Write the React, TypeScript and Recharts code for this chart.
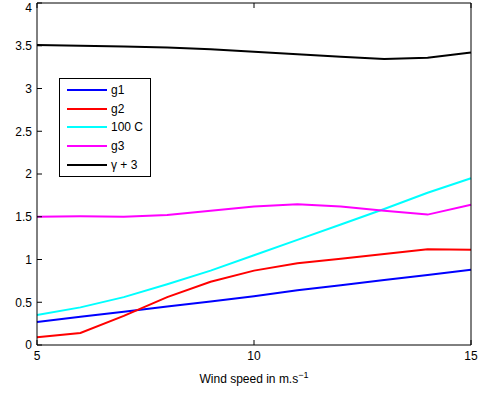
import { LineChart, Line, XAxis, YAxis, Legend, Label } from "recharts"

const windSpeed = [5, 6, 7, 8, 9, 10, 11, 12, 13, 14, 15]
const g1 = [0.27, 0.33, 0.39, 0.45, 0.51, 0.57, 0.64, 0.7, 0.76, 0.82, 0.88]
const g2 = [0.09, 0.14, 0.34, 0.56, 0.74, 0.87, 0.955, 1.01, 1.065, 1.12, 1.115]
const c100 = [0.35, 0.44, 0.56, 0.71, 0.87, 1.05, 1.23, 1.41, 1.59, 1.78, 1.95]
const g3 = [1.5, 1.505, 1.5, 1.52, 1.57, 1.62, 1.645, 1.62, 1.57, 1.525, 1.64]
const gammaPlus3 = [3.51, 3.5, 3.49, 3.48, 3.46, 3.43, 3.4, 3.37, 3.345, 3.36, 3.42]

const seriesNames = ["g1", "g2", "100 C", "g3", "γ + 3"]
const xTicks = [5, 10, 15]
const yTicks = [0, 0.5, 1, 1.5, 2, 2.5, 3, 3.5, 4]

const data = windSpeed.map((w, i) => ({
  w,
  g1: g1[i],
  g2: g2[i],
  c100: c100[i],
  g3: g3[i],
  gamma: gammaPlus3[i],
}))

const font = "'Liberation Sans', Arial, sans-serif"
const tickStyle = { fill: "#000", fontSize: 12, fontFamily: font }

function LegendBox(props: any) {
  const items = [...(props.payload || [])].sort(
    (a: any, b: any) => seriesNames.indexOf(a.value) - seriesNames.indexOf(b.value)
  )
  return (
    <div
      style={{
        border: "1px solid #000",
        background: "#fff",
        width: 92,
        boxSizing: "border-box",
        padding: "2px 0",
        fontFamily: font,
        fontSize: 12,
        color: "#000",
      }}
    >
      {items.map((it: any) => (
        <div key={it.value} style={{ display: "flex", alignItems: "center", height: 18.6 }}>
          <span style={{ display: "inline-block", width: 40, height: 2, marginLeft: 7, background: it.color }} />
          <span style={{ marginLeft: 4, lineHeight: "12px" }}>{it.value}</span>
        </div>
      ))}
    </div>
  )
}

function AxisTitle(props: any) {
  const vb = props.viewBox
  return (
    <text x={vb.x + vb.width / 2} y={vb.y + 38} textAnchor="middle" fontFamily={font} fontSize={12} fill="#000">
      Wind speed in m.s
      <tspan dy={-5} fontSize={9}>−1</tspan>
    </text>
  )
}

export default function App() {
  return (
    <div style={{ position: "absolute", left: 0, top: 0, background: "#fff" }}>
      <LineChart width={492} height={394} data={data} margin={{ top: 0, right: 0, bottom: 0, left: 0 }}>
        <XAxis
          xAxisId="b"
          dataKey="w"
          type="number"
          domain={[5, 15]}
          ticks={xTicks}
          orientation="bottom"
          height={49}
          stroke="#000"
          tickSize={-5}
          tickMargin={11}
          tick={tickStyle}
        >
          <Label content={AxisTitle} />
        </XAxis>
        <XAxis
          xAxisId="t"
          dataKey="w"
          type="number"
          domain={[5, 15]}
          ticks={xTicks}
          orientation="top"
          height={3}
          stroke="#000"
          tickSize={-5}
          tickFormatter={() => ""}
        />
        <YAxis
          yAxisId="l"
          type="number"
          domain={[0, 4]}
          ticks={yTicks}
          orientation="left"
          width={37}
          stroke="#000"
          tickSize={-5}
          tickMargin={10}
          tick={tickStyle}
        />
        <YAxis
          yAxisId="r"
          type="number"
          domain={[0, 4]}
          ticks={yTicks}
          orientation="right"
          width={21}
          stroke="#000"
          tickSize={-5}
          tickFormatter={() => ""}
        />
        <Legend
          layout="vertical"
          align="center"
          verticalAlign="middle"
          itemSorter={null as any}
          content={LegendBox}
          wrapperStyle={{ left: 59, top: 78, width: 92 }}
        />
        <Line xAxisId="b" yAxisId="l" type="linear" dataKey="g1" name={seriesNames[0]} stroke="#0000ff" strokeWidth={2} dot={false} isAnimationActive={false} />
        <Line xAxisId="b" yAxisId="l" type="linear" dataKey="g2" name={seriesNames[1]} stroke="#ff0000" strokeWidth={2} dot={false} isAnimationActive={false} />
        <Line xAxisId="b" yAxisId="l" type="linear" dataKey="c100" name={seriesNames[2]} stroke="#00ffff" strokeWidth={2} dot={false} isAnimationActive={false} />
        <Line xAxisId="b" yAxisId="l" type="linear" dataKey="g3" name={seriesNames[3]} stroke="#ff00ff" strokeWidth={2} dot={false} isAnimationActive={false} />
        <Line xAxisId="b" yAxisId="l" type="linear" dataKey="gamma" name={seriesNames[4]} stroke="#000000" strokeWidth={2} dot={false} isAnimationActive={false} />
      </LineChart>
    </div>
  )
}
